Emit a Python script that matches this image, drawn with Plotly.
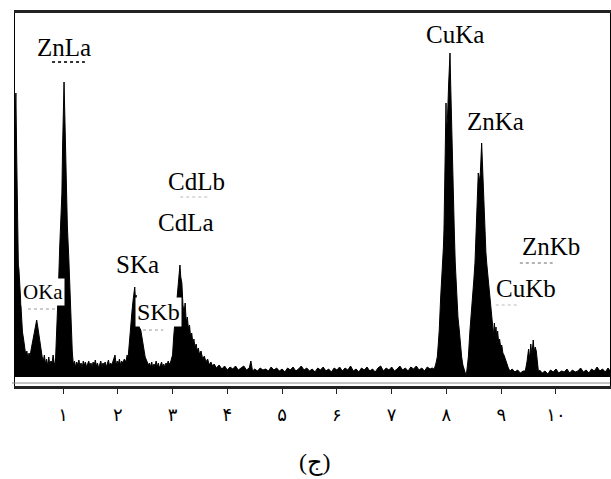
import plotly.graph_objects as go

# ---- spectrum data (energy in keV, counts in arbitrary units) ----
energy_kev = [
    0.10, 0.125, 0.14, 0.155, 0.17, 0.185, 0.195, 0.21, 0.22, 0.24, 0.26, 0.28, 0.30, 0.32, 0.34, 0.36,
    0.38, 0.40, 0.42, 0.44, 0.46, 0.48, 0.50, 0.52, 0.54, 0.56, 0.58, 0.60, 0.62, 0.64, 0.66, 0.68,
    0.70, 0.72, 0.74, 0.76, 0.78, 0.80, 0.82, 0.84,
    0.86, 0.88, 0.90, 0.92, 0.94, 0.96, 0.98, 0.992, 1.004, 1.019, 1.034, 1.046, 1.06, 1.08, 1.105,
    1.13, 1.15, 1.17, 1.19,
    1.21, 1.23, 1.25, 1.27, 1.29, 1.31, 1.33, 1.35, 1.37, 1.39, 1.41, 1.43, 1.45, 1.47, 1.49, 1.51,
    1.53, 1.55, 1.57, 1.59, 1.61, 1.63, 1.65, 1.67, 1.69, 1.71, 1.73, 1.75, 1.77, 1.79, 1.81, 1.83,
    1.85, 1.87, 1.89, 1.91, 1.93, 1.95, 1.97, 1.99, 2.01, 2.03, 2.05, 2.07, 2.09,
    2.12, 2.15, 2.17, 2.19, 2.21, 2.22, 2.24, 2.26, 2.28, 2.30, 2.31, 2.32, 2.335, 2.35, 2.37, 2.39,
    2.42, 2.44, 2.47, 2.50, 2.53, 2.56,
    2.58, 2.60, 2.62, 2.64, 2.66, 2.68, 2.70, 2.72, 2.74, 2.76, 2.78, 2.80, 2.82, 2.84, 2.86, 2.88,
    2.90, 2.92, 2.94,
    2.96, 2.98, 3.00, 3.02, 3.04, 3.06, 3.08, 3.10, 3.12, 3.135, 3.15, 3.17, 3.19, 3.21, 3.23, 3.25,
    3.27, 3.29, 3.31, 3.33, 3.35, 3.37, 3.39, 3.41, 3.43, 3.45, 3.47, 3.49, 3.52, 3.55, 3.58, 3.61,
    3.64, 3.67, 3.70, 3.73,
    3.76, 3.80, 3.85, 3.90, 3.95, 4.00, 4.05, 4.10, 4.15, 4.20, 4.25, 4.30, 4.35, 4.40, 4.43, 4.46,
    4.50, 4.55, 4.60, 4.65, 4.70, 4.75, 4.80, 4.85, 4.90, 4.95, 5.00, 5.05, 5.10, 5.15, 5.20, 5.25,
    5.30, 5.35, 5.40, 5.45, 5.50, 5.55, 5.60, 5.65, 5.70, 5.75, 5.80, 5.85, 5.90, 5.95, 6.00, 6.05,
    6.10, 6.15, 6.20, 6.25, 6.30, 6.35, 6.40, 6.45, 6.50, 6.55, 6.60, 6.65, 6.70, 6.75, 6.80, 6.85,
    6.90, 6.95, 7.00, 7.05, 7.10, 7.15, 7.20, 7.25, 7.30, 7.35, 7.40, 7.45, 7.50, 7.55, 7.60, 7.65,
    7.70, 7.74,
    7.77, 7.79, 7.81, 7.833, 7.85, 7.869, 7.895, 7.915, 7.931, 7.945, 7.955, 7.973, 7.985, 7.992,
    8.00, 8.02, 8.041, 8.065, 8.077, 8.09, 8.107, 8.125, 8.138, 8.143, 8.161, 8.187, 8.21, 8.234,
    8.255, 8.278, 8.30, 8.32, 8.338, 8.355,
    8.37, 8.385, 8.40, 8.43, 8.455, 8.479, 8.50, 8.521, 8.539, 8.563, 8.581, 8.60, 8.62, 8.643,
    8.661, 8.672, 8.69, 8.703, 8.72, 8.735, 8.76, 8.795, 8.81, 8.826, 8.845, 8.86, 8.875, 8.89,
    8.905, 8.92, 8.935, 8.95, 8.97, 8.99, 9.01, 9.03, 9.05, 9.075, 9.10, 9.13, 9.16, 9.20, 9.25,
    9.30, 9.35, 9.40,
    9.44, 9.47, 9.50, 9.52, 9.54, 9.56, 9.585, 9.60, 9.62, 9.64, 9.66, 9.68,
    9.70, 9.75, 9.80, 9.85, 9.90, 9.95, 10.00, 10.05, 10.10, 10.15, 10.20, 10.25, 10.30, 10.35,
    10.40, 10.45, 10.50, 10.55, 10.60, 10.65, 10.70, 10.75, 10.80, 10.85, 10.90, 10.95, 10.99,
]

counts = [
    200, 250, 284, 220, 150, 112, 108, 92, 75, 58, 45, 38, 28, 22, 26, 19,
    24, 21, 28, 34, 42, 48, 54, 57, 50, 42, 33, 26, 20, 16, 22, 13,
    18, 11, 20, 12, 16, 14, 22, 14,
    12, 40, 62, 95, 130, 160, 184, 229, 260, 295, 260, 229, 184, 150, 120,
    80, 50, 25, 12,
    16, 10, 15, 12, 17, 11, 14, 9, 16, 12, 15, 10, 13, 16, 11, 14,
    10, 15, 12, 17, 11, 14, 9, 13, 16, 10, 14, 12, 15, 10, 13, 17,
    11, 14, 12, 15, 18, 22, 12, 16, 13, 18, 12, 16, 14,
    18, 15, 22, 20, 35, 44, 52, 66, 77, 84, 90, 80, 82, 70, 60, 50,
    47, 40, 30, 20, 16, 12,
    14, 10, 15, 9, 13, 11, 16, 10, 14, 9, 12, 15, 10, 13, 9, 14,
    12, 16, 13,
    14, 18, 22, 40, 52, 65, 78, 94, 100, 112, 100, 94, 72, 64, 74, 55,
    60, 48, 52, 40, 44, 34, 38, 29, 33, 26, 29, 23, 26, 18, 21, 15,
    18, 12, 15, 11,
    13, 9, 12, 8, 11, 7, 10, 8, 11, 7, 9, 11, 7, 9, 16, 6,
    8, 6, 9, 7, 8, 6, 10, 7, 9, 6, 8, 5, 9, 7, 10, 6,
    8, 11, 7, 9, 6, 8, 5, 9, 7, 10, 6, 8, 5, 9, 7, 10,
    6, 9, 7, 11, 6, 8, 5, 9, 7, 10, 6, 8, 5, 9, 11, 6,
    9, 7, 10, 6, 8, 11, 7, 9, 6, 10, 8, 11, 7, 9, 6, 10,
    8, 9,
    8, 10, 14, 20, 32, 47, 80, 97, 114, 130, 147, 194, 234, 274,
    245, 260, 294, 324, 294, 260, 234, 194, 167, 147, 114, 80, 60, 47,
    32, 20, 12, 8, 5, 2,
    5, 12, 20, 47, 62, 80, 97, 114, 147, 184, 204, 195, 205, 234,
    204, 184, 160, 140, 125, 114, 98, 80, 66, 60, 52, 42, 54, 44,
    50, 38, 46, 36, 38, 30, 32, 24, 22, 17, 14, 9, 6, 8, 5,
    7, 4, 6,
    6, 15, 28, 18, 33, 22, 37, 25, 30, 26, 12, 5,
    7, 4, 6, 3, 7, 5, 8, 4, 6, 5, 8, 4, 7, 5,
    6, 9, 5, 7, 4, 8, 6, 10, 6, 8, 5, 9, 6,
]

# ---- axis ticks (Persian digits) ----
tick_values = [1, 2, 3, 4, 5, 6, 7, 8, 9, 10]
tick_labels = ["۱", "۲", "۳", "۴", "۵", "۶", "۷", "۸", "۹", "۱۰"]

# ---- peak labels: text, anchor energy (keV), anchor height (counts) ----
peak_names = ["ZnLa", "OKa", "SKa", "SKb", "CdLa", "CdLb", "CuKa", "ZnKa", "CuKb", "ZnKb"]
peak_label_x = [1.01, 0.635, 2.369, 2.752, 3.245, 3.446, 8.165, 8.904, 9.452, 9.908]
peak_label_y = [330, 85, 113, 65, 155, 196, 343, 256, 89, 131]
peak_boxed = [False, True, False, True, False, False, False, False, True, False]
peak_font = [25, 21, 25, 24, 25, 25, 25, 25, 25, 25]

caption = "(ج)"

fig = go.Figure()
fig.add_trace(go.Scatter(
    x=energy_kev, y=counts, mode="lines",
    line=dict(color="black", width=1),
    fill="tozeroy", fillcolor="black",
    hoverinfo="skip", showlegend=False,
))

for name, ex, ey, boxed, fs in zip(peak_names, peak_label_x, peak_label_y, peak_boxed, peak_font):
    fig.add_annotation(
        x=ex, y=ey, text=name, showarrow=False,
        xanchor="center", yanchor="middle",
        font=dict(family="Liberation Serif, Times New Roman, serif", size=fs, color="black"),
        bgcolor="white" if boxed else "rgba(0,0,0,0)",
        borderpad=1,
    )

# faint dashed underlines that sit below some of the labels (decoration)
label_rules = [
    (0.80, 1.40, 315, "#333", 2),
    (3.14, 3.68, 180, "#bbb", 1),
    (0.36, 0.89, 68, "#999", 1),
    (2.46, 2.83, 47, "#999", 1),
    (9.34, 9.94, 114, "#666", 1),
    (8.90, 9.29, 72, "#bbb", 1),
]
for e0, e1, hy, col, w in label_rules:
    fig.add_shape(type="line", x0=e0, x1=e1, y0=hy, y1=hy,
                  line=dict(color=col, width=w, dash="dot"))

fig.add_annotation(
    x=0.504, y=-0.205, xref="paper", yref="paper", text=caption, showarrow=False,
    xanchor="center", yanchor="middle",
    font=dict(family="Liberation Serif, DejaVu Sans, serif", size=24, color="black"),
)

# thin grey line just above the thick axis line
fig.add_shape(type="line", xref="paper", yref="y", x0=-0.005, x1=1, y0=-6, y1=-6,
              line=dict(color="#8a8a8a", width=1))

fig.update_xaxes(
    range=[0.1238, 10.986], showgrid=False, zeroline=False,
    showline=True, linecolor="#222", linewidth=3, mirror=True,
    ticks="outside", ticklen=5, tickwidth=1, tickcolor="#222",
    tickvals=tick_values, ticktext=tick_labels,
    tickfont=dict(family="DejaVu Sans, Noto Sans", size=18, color="black"),
    ticklabelstandoff=5,
)
fig.update_yaxes(
    range=[-9, 364], showgrid=False, zeroline=False,
    showline=True, linecolor="black", linewidth=1, mirror=True,
    showticklabels=False, ticks="",
)
fig.update_layout(
    width=611, height=479,
    margin=dict(l=15, r=1, t=13, b=93, pad=0),
    plot_bgcolor="white", paper_bgcolor="white",
)

fig.write_html(
    "out.html",
    config={"displayModeBar": False},
    post_script="document.body.style.margin='0';document.body.style.overflow='hidden';",
)
